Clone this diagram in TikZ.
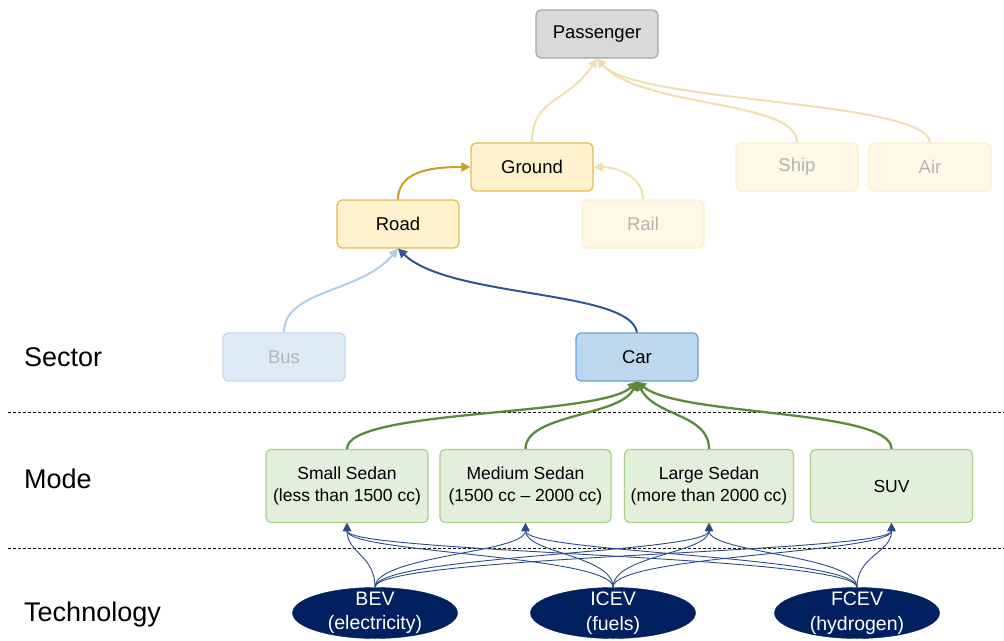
\documentclass[tikz,border=0pt]{standalone}
\usepackage{fontspec}
\setmainfont{Liberation Sans}
\usetikzlibrary{shapes.geometric,arrows.meta}
\definecolor{passfill}{HTML}{D9D9D9}
\definecolor{passdraw}{HTML}{A6A6A6}
\definecolor{yfill}{HTML}{FFF2CC}
\definecolor{ydraw}{HTML}{E2BC4E}
\definecolor{ffill}{HTML}{FFF8E6}
\definecolor{fdraw}{HTML}{FCEFCF}
\definecolor{ftext}{HTML}{B4B4B4}
\definecolor{busfill}{HTML}{DEEBF7}
\definecolor{busdraw}{HTML}{C3D8EE}
\definecolor{carfill}{HTML}{BDD7EE}
\definecolor{cardraw}{HTML}{6A9FD8}
\definecolor{mfill}{HTML}{E2EFDA}
\definecolor{mdraw}{HTML}{A9D18E}
\definecolor{navy}{HTML}{002060}
\definecolor{techline}{HTML}{2A4A8A}
\definecolor{goldline}{HTML}{C9A020}
\definecolor{fadegold}{HTML}{F0E0B0}
\definecolor{lightblue}{HTML}{B0CDEA}
\definecolor{darkblue}{HTML}{2F5597}
\definecolor{greenline}{HTML}{5A8A3A}
\newcommand{\boxfont}{\fontsize{18.5}{22.5}\selectfont}
\newcommand{\modefont}{\fontsize{17.5}{22.5}\selectfont}
\newcommand{\lblfont}{\fontsize{27}{30}\selectfont}
\newcommand{\techfont}{\fontsize{19.5}{24.5}\selectfont}
\tikzset{
  box/.style={draw, rounded corners=5pt, minimum width=122pt, minimum height=48pt,
    inner sep=0pt, font=\boxfont, line width=1.2pt, align=center},
  gbox/.style={box, fill=passfill, draw=passdraw},
  ybox/.style={box, fill=yfill, draw=ydraw},
  fbox/.style={box, fill=ffill, draw=fdraw, text=ftext},
  busbox/.style={box, fill=busfill, draw=busdraw, text=ftext},
  carbox/.style={box, fill=carfill, draw=cardraw},
  mbox/.style={box, fill=mfill, draw=mdraw, minimum height=73pt, font=\modefont},
  tech/.style={ellipse, fill=navy, draw=navy, minimum width=165pt, minimum height=51pt, inner sep=0pt},
  techtext/.style={text=white, align=center, font=\techfont},
  lbl/.style={anchor=west, font=\lblfont, inner sep=0pt},
  bigarr/.style={-{Triangle[length=9pt,width=9pt]}, line width=2pt},
  goldarr/.style={bigarr, draw=goldline, color=goldline},
  fadearr/.style={bigarr, draw=fadegold, color=fadegold},
  lbarr/.style={bigarr, color=lightblue},
  dbarr/.style={bigarr, color=darkblue},
  grarr/.style={bigarr, color=greenline, line width=2.3pt},
  techarr/.style={-{Triangle[length=8pt,width=8pt]}, line width=0.9pt, color=techline},
  dashline/.style={draw=black, line width=0.9pt, dash pattern=on 3pt off 2pt}
}
\begin{document}
\begin{tikzpicture}[x=1pt,y=-1pt]
\useasboundingbox (0,0) rectangle (1004,640);
% labels
\node[lbl] (sector) at (24,357) {Sector};
\node[lbl] (mode) at (24,479) {Mode};
\node[lbl] (technology) at (24,615) {Technology};
% dashed separators
\coordinate (d1a) at (8,412); \coordinate (d1b) at (1004,412);
\coordinate (d2a) at (8,548); \coordinate (d2b) at (1004,548);
\draw[dashline] (d1a) -- (d1b);
\draw[dashline] (d2a) -- (d2b);
% nodes
\node[gbox] (pass) at (597,34) {Passenger};
\node[ybox] (ground) at (532,167) {Ground};
\node[ybox] (road) at (398,224) {Road};
\node[fbox] (rail) at (643,224) {Rail};
\node[fbox] (ship) at (797,167) {Ship};
\node[fbox] (air) at (930,167) {Air};
\node[busbox] (bus) at (284,357) {Bus};
\node[carbox] (car) at (637,357) {Car};
\node[mbox, minimum width=162pt] (small) at (347,486) {Small Sedan\\(less than 1500 cc)};
\node[mbox, minimum width=171pt] (medium) at (525.5,486) {Medium Sedan\\(1500 cc – 2000 cc)};
\node[mbox, minimum width=169pt] (large) at (709,486) {Large Sedan\\(more than 2000 cc)};
\node[mbox, minimum width=162pt] (suv) at (891.5,486) {SUV};
\node[tech, label={[techtext]center:BEV\\(electricity)}] (bev) at (375,613) {};
\node[tech, label={[techtext]center:ICEV\\(fuels)}] (icev) at (613,613) {};
\node[tech, label={[techtext]center:FCEV\\(hydrogen)}] (fcev) at (857,613) {};
% upper connectors
\draw[goldarr] (road.north) to[out=90,in=180] (ground.west);
\draw[fadearr] (ground.north) .. controls +(0,-45) and +(-30,45) .. (pass.south);
\draw[fadearr] (ship.north) .. controls +(0,-43) and +(45,50) .. (pass.south);
\draw[fadearr] (air.north) .. controls +(-5,-43) and +(40,45) .. (pass.south);
\draw[fadearr] (rail.north) to[out=90,in=0] (ground.east);
\draw[lbarr] (bus.north) .. controls +(0,-43) and +(-38,45) .. (road.south);
\draw[dbarr] (car.north) .. controls +(-7,-43) and +(52,50) .. (road.south);
% mode to car
\draw[grarr] (small.north) .. controls +(0,-40) and +(-37,35) .. (car.south);
\draw[grarr] (medium.north) .. controls +(0,-35) and +(-17,35) .. (car.south);
\draw[grarr] (large.north) .. controls +(0,-35) and +(18,35) .. (car.south);
\draw[grarr] (suv.north) .. controls +(0,-40) and +(43,35) .. (car.south);
% technology to mode
\foreach \t in {bev,icev,fcev}{
  \foreach \m in {small,medium,large,suv}{
    \draw[techarr] (\t.north) .. controls +(0,-32) and +(0,30) .. (\m.south);
  }
}
\end{tikzpicture}
\end{document}
